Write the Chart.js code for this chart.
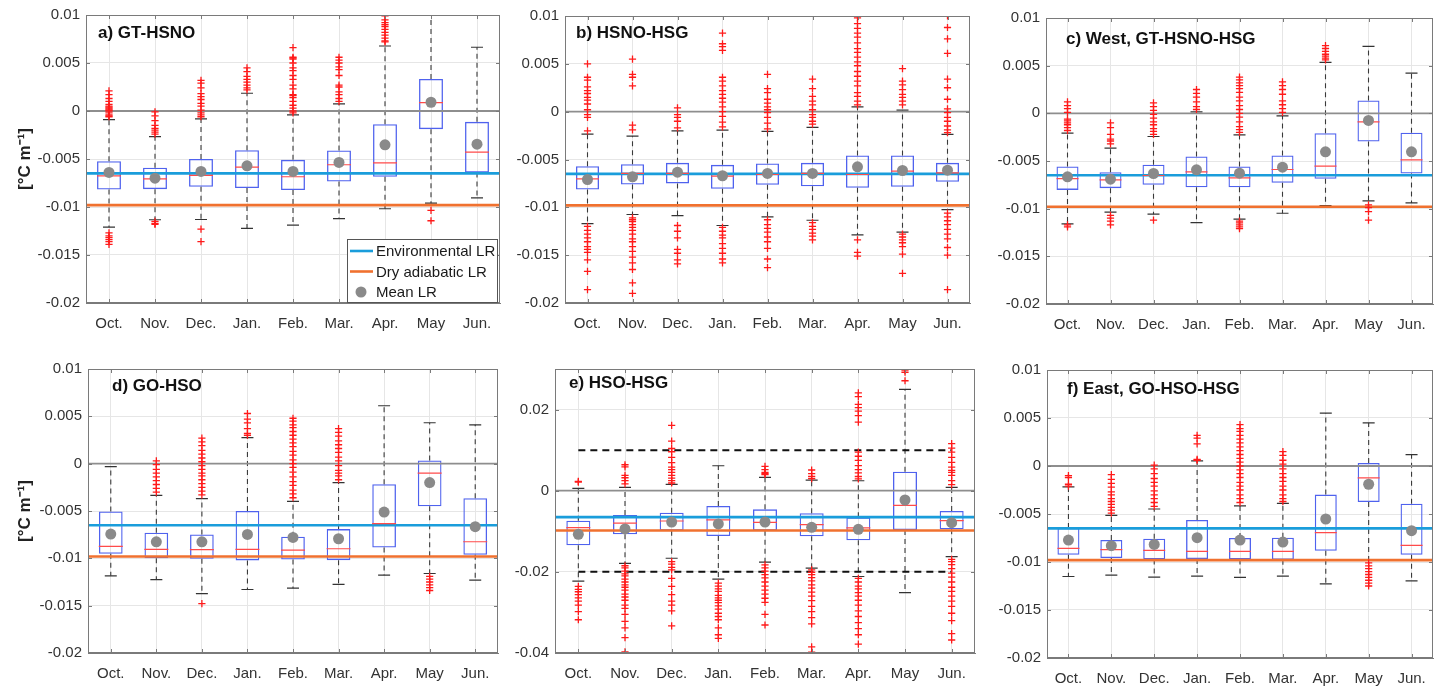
<!DOCTYPE html>
<html lang="en">
<head>
<meta charset="UTF-8">
<title>Monthly lapse rates by station pair</title>
<script src="https://cdn.jsdelivr.net/npm/chart.js"></script>
<style>
  body { margin: 0; background: #fff; }
  #wrap { position: relative; width: 1442px; height: 687px; overflow: hidden; }
  #wrap canvas { position: absolute; }
</style>
</head>
<body>
<div id="wrap"></div>
<script>
const months = ['Oct.', 'Nov.', 'Dec.', 'Jan.', 'Feb.', 'Mar.', 'Apr.', 'May', 'Jun.'];
const envLR = -0.0065;
const dryLR = -0.0098;
const yTicks = [-0.02, -0.015, -0.01, -0.005, 0, 0.005, 0.01];
const yTickLabels = ['-0.02', '-0.015', '-0.01', '-0.005', '0', '0.005', '0.01'];
const eTicks = [-0.04, -0.02, 0, 0.02];
const eTickLabels = ['-0.04', '-0.02', '0', '0.02'];
const eBounds = [0.01, -0.02];

// a) GT-HSNO
const aQ1 = [-0.00817, -0.00814, -0.0079, -0.00803, -0.00824, -0.00734, -0.00685, -0.00189, -0.0064];
const aQ3 = [-0.00523, -0.0059, -0.005, -0.00408, -0.00509, -0.00411, -0.00138, 0.00334, -0.00113];
const aMed = [-0.00675, -0.00706, -0.0067, -0.00585, -0.00685, -0.0056, -0.0054, 0.00088, -0.00429];
const aMean = [-0.0064, -0.007, -0.0063, -0.00571, -0.0063, -0.00536, -0.00352, 0.00091, -0.00346];
const aLo = [-0.0121, -0.01133, -0.0113, -0.01223, -0.01188, -0.01122, -0.01018, -0.0096, -0.00904];
const aHi = [-0.0009, -0.00266, -0.00082, 0.00185, -0.0004, 0.00074, 0.00677, 0.0105, 0.00664];
const aOut = [
  [0.0021, 0.0017, 0.0013, 0.001, 0.0007, 0.0005, 0.0004, 0.0003, 0.0002, 0.0001, 0, -0.0002, -0.0004, -0.0005, -0.0006, -0.0127, -0.013, -0.0132, -0.0134, -0.0136, -0.0139],
  [-0.0001, -0.0005, -0.001, -0.0015, -0.0018, -0.002, -0.0022, -0.0024, -0.0115, -0.0117, -0.0118],
  [0.0032, 0.0029, 0.0024, 0.0018, 0.0015, 0.0012, 0.0008, 0.0005, 0.0001, -0.0002, -0.0004, -0.0006, -0.0123, -0.0136],
  [0.0045, 0.0041, 0.0036, 0.0033, 0.003, 0.0027, 0.0024, 0.0022],
  [0.0066, 0.0056, 0.0055, 0.0054, 0.005, 0.0045, 0.0042, 0.0037, 0.0033, 0.0027, 0.0023, 0.0017, 0.0016, 0.0014, 0.001, 0.0006, 0.0003, 0, -0.0002],
  [0.0056, 0.0053, 0.005, 0.0046, 0.0043, 0.0037, 0.0027, 0.0025, 0.002, 0.0017, 0.0013, 0.001],
  [0.0099, 0.0095, 0.0092, 0.009, 0.0088, 0.0085, 0.0082, 0.0079, 0.0076, 0.0073, 0.0072],
  [-0.01036, -0.01143],
  []
];

// b) HSNO-HSG
const bQ1 = [-0.00814, -0.00761, -0.0075, -0.00807, -0.00765, -0.00779, -0.00796, -0.00786, -0.00733];
const bQ3 = [-0.0057, -0.00549, -0.00535, -0.00556, -0.00542, -0.00535, -0.00458, -0.00458, -0.00535];
const bMed = [-0.00702, -0.00646, -0.00646, -0.00674, -0.00657, -0.00646, -0.00657, -0.00622, -0.0064];
const bMean = [-0.00709, -0.00681, -0.00632, -0.0067, -0.00646, -0.00646, -0.00577, -0.00615, -0.00612];
const bLo = [-0.0117, -0.01075, -0.01086, -0.0119, -0.011, -0.01135, -0.01288, -0.0126, -0.01023];
const bHi = [-0.00235, -0.00256, -0.002, -0.00193, -0.00207, -0.00165, 0.00051, 0.00016, -0.00238];
const bOut = [
  [0.005, 0.0036, 0.0033, 0.0026, 0.0022, 0.0019, 0.0015, 0.0012, 0.0008, 0.0002, -0.0003, -0.0006, -0.002, -0.012, -0.0124, -0.0128, -0.0132, -0.0136, -0.0141, -0.0144, -0.0147, -0.0155, -0.0167, -0.0186],
  [0.0055, 0.0039, 0.0036, 0.0027, -0.0014, -0.0019, -0.0111, -0.0113, -0.0115, -0.0118, -0.0121, -0.0124, -0.0128, -0.0133, -0.0136, -0.0141, -0.0146, -0.0152, -0.0158, -0.0165, -0.0179, -0.019],
  [0.0004, -0.0003, -0.0006, -0.001, -0.0017, -0.0119, -0.0125, -0.0132, -0.0144, -0.0148, -0.0155, -0.0159],
  [0.0082, 0.0071, 0.0068, 0.0064, 0.0036, 0.0032, 0.0027, 0.0022, 0.0018, 0.0014, 0.001, 0.0005, 0, -0.0005, -0.0011, -0.0016, -0.0121, -0.0125, -0.0129, -0.0132, -0.0138, -0.0143, -0.0148, -0.0154, -0.0158],
  [0.0039, 0.0024, 0.002, 0.0013, 0.0009, 0.0005, 0.0002, -0.0001, -0.0006, -0.0012, -0.0018, -0.0113, -0.0118, -0.0122, -0.0126, -0.0131, -0.0136, -0.0143, -0.0154, -0.0163],
  [0.0034, 0.0024, 0.0016, 0.0011, 0.0007, 0.0002, -0.0003, -0.0006, -0.001, -0.0013, -0.0116, -0.012, -0.0123, -0.0127, -0.013, -0.0134],
  [0.0098, 0.0092, 0.0087, 0.0082, 0.0078, 0.0072, 0.0066, 0.0062, 0.0057, 0.0052, 0.0048, 0.0042, 0.0037, 0.0032, 0.0027, 0.002, 0.0016, 0.0011, 0.0007, -0.0134, -0.0147, -0.0151],
  [0.0045, 0.0032, 0.0028, 0.0023, 0.0018, 0.0015, 0.0011, 0.0007, -0.0128, -0.0131, -0.0134, -0.0137, -0.0141, -0.0149, -0.0169],
  [0.01, 0.0088, 0.0076, 0.0061, 0.0034, 0.0025, 0.0013, 0.0003, -0.0001, -0.0006, -0.001, -0.0015, -0.0019, -0.0022, -0.0106, -0.011, -0.0114, -0.0118, -0.0123, -0.0128, -0.0133, -0.0142, -0.015, -0.0186]
];

// c) West, GT-HSNO-HSG
const cQ1 = [-0.00803, -0.00785, -0.0075, -0.00775, -0.00775, -0.00729, -0.00687, -0.00295, -0.00631];
const cQ3 = [-0.00558, -0.00617, -0.0054, -0.00453, -0.00558, -0.00442, -0.00208, 0.00135, -0.00204];
const cMed = [-0.00684, -0.00698, -0.00652, -0.00614, -0.00677, -0.00589, -0.00554, -0.00089, -0.00488];
const cMean = [-0.00666, -0.00691, -0.00631, -0.00593, -0.00628, -0.00565, -0.00404, -0.00075, -0.00404];
const cLo = [-0.0116, -0.01037, -0.01058, -0.01146, -0.0111, -0.01048, -0.00967, -0.00918, -0.0094];
const cHi = [-0.00208, -0.00365, -0.00243, 0.00016, -0.00225, -0.00026, 0.00534, 0.00702, 0.00422];
const cOut = [
  [0.0012, 0.0008, 0.0005, 0.0001, -0.0006, -0.0008, -0.001, -0.0012, -0.0015, -0.0018, -0.0117, -0.0119],
  [-0.001, -0.0015, -0.0022, -0.0027, -0.0029, -0.0032, -0.0107, -0.011, -0.0113, -0.0117],
  [0.0011, 0.0007, 0.0003, -0.0001, -0.0005, -0.0009, -0.0012, -0.0016, -0.0019, -0.0022, -0.0112],
  [0.0025, 0.0021, 0.0017, 0.0012, 0.0007, 0.0004],
  [0.0038, 0.0035, 0.0032, 0.0029, 0.0026, 0.0022, 0.0017, 0.0013, 0.0008, 0.0004, 0, -0.0004, -0.0009, -0.0014, -0.0017, -0.002, -0.0113, -0.0115, -0.0117, -0.0119, -0.0121],
  [0.0033, 0.0029, 0.0025, 0.002, 0.0013, 0.0009, 0.0005, 0.0001],
  [0.0071, 0.0068, 0.0065, 0.0062, 0.006, 0.0058, 0.0056],
  [-0.0096, -0.0099, -0.0103, -0.0112],
  []
];

// d) GO-HSO
const dQ1 = [-0.00952, -0.00998, -0.01005, -0.01022, -0.01012, -0.01019, -0.00885, -0.0045, -0.00962];
const dQ3 = [-0.00504, -0.00729, -0.00747, -0.005, -0.00772, -0.00691, -0.00218, 0.00033, -0.00366];
const dMed = [-0.00874, -0.00906, -0.00909, -0.00906, -0.00913, -0.00899, -0.00634, -0.001, -0.00825];
const dMean = [-0.00744, -0.00825, -0.00825, -0.00747, -0.00779, -0.00793, -0.00511, -0.002, -0.00666];
const dLo = [-0.01185, -0.01224, -0.01372, -0.01329, -0.01315, -0.01276, -0.01178, -0.0116, -0.0123];
const dHi = [-0.00031, -0.00334, -0.00369, 0.00276, -0.00398, -0.002, 0.00612, 0.00432, 0.0041];
const dOut = [
  [],
  [0.0003, -0.0001, -0.0006, -0.001, -0.0014, -0.0018, -0.0022, -0.0026, -0.003],
  [0.0027, 0.0023, 0.0019, 0.0014, 0.001, 0.0006, 0.0002, -0.0002, -0.0006, -0.001, -0.0013, -0.0017, -0.0021, -0.0025, -0.0029, -0.0033, -0.01478],
  [0.0053, 0.0047, 0.0043, 0.0037, 0.0032, 0.003],
  [0.0048, 0.0045, 0.0041, 0.0038, 0.0034, 0.003, 0.0026, 0.0022, 0.0018, 0.0013, 0.0009, 0.0004, 0, -0.0004, -0.0009, -0.0014, -0.0019, -0.0023, -0.0028, -0.0032, -0.0036],
  [0.0037, 0.0033, 0.0029, 0.0024, 0.002, 0.0016, 0.0012, 0.0007, 0.0003, -0.0002, -0.0007, -0.001, -0.0013, -0.0017],
  [],
  [-0.0119, -0.0122, -0.0125, -0.0128, -0.0131, -0.0134],
  []
];

// e) HSO-HSG
const eQ1 = [-0.01344, -0.01074, -0.00984, -0.01115, -0.00984, -0.01123, -0.01222, -0.00967, -0.00951];
const eQ3 = [-0.00738, -0.006, -0.00541, -0.00377, -0.00459, -0.00557, -0.00656, 0.00467, -0.005];
const eMed = [-0.0091, -0.008, -0.00746, -0.00721, -0.00779, -0.00836, -0.00918, -0.00361, -0.00738];
const eMean = [-0.01074, -0.00943, -0.00771, -0.0082, -0.00771, -0.00902, -0.00951, -0.00229, -0.00787];
const eLo = [-0.0223, -0.0179, -0.01664, -0.0218, -0.01762, -0.0191, -0.02115, -0.0251, -0.01623];
const eHi = [0.00057, 0.0008, 0.00156, 0.00615, 0.00328, 0.00262, 0.00246, 0.025, 0.00082];
const eOut = [
  [0.0023, 0.0021, -0.0236, -0.0243, -0.0249, -0.0256, -0.0264, -0.0272, -0.0282, -0.0298, -0.0318],
  [0.0064, 0.0059, 0.0038, 0.0032, 0.0025, 0.0017, -0.0185, -0.019, -0.0198, -0.0205, -0.021, -0.0218, -0.0225, -0.0232, -0.0238, -0.0245, -0.0255, -0.0262, -0.027, -0.0282, -0.029, -0.0305, -0.0322, -0.0338, -0.0362, -0.0397],
  [0.0161, 0.0122, 0.0104, 0.0096, 0.0082, 0.0069, 0.0058, 0.0052, 0.0045, 0.0038, 0.0031, 0.0025, 0.0019, -0.0175, -0.0181, -0.0189, -0.0195, -0.0216, -0.0236, -0.0256, -0.0272, -0.0282, -0.0296, -0.0333],
  [-0.0228, -0.0235, -0.0242, -0.0248, -0.0258, -0.0264, -0.027, -0.0276, -0.0284, -0.0292, -0.0302, -0.031, -0.0318, -0.0338, -0.0355, -0.0364],
  [0.006, 0.0052, 0.0045, 0.0042, 0.004, -0.0183, -0.019, -0.0198, -0.0207, -0.0215, -0.0225, -0.0235, -0.0245, -0.0255, -0.0265, -0.0275, -0.0305, -0.0331],
  [0.0051, 0.0042, 0.0035, 0.003, -0.0195, -0.0201, -0.0207, -0.0214, -0.0222, -0.0232, -0.024, -0.025, -0.026, -0.0271, -0.0285, -0.0298, -0.0313, -0.0328, -0.0385, -0.0398],
  [0.0241, 0.0232, 0.0213, 0.0205, 0.0196, 0.0185, 0.0169, 0.0095, 0.0085, 0.0075, 0.0062, 0.0052, 0.0044, 0.0035, 0.0029, -0.0216, -0.0225, -0.0235, -0.0242, -0.0251, -0.026, -0.027, -0.0282, -0.0296, -0.031, -0.0325, -0.034, -0.0355, -0.0378],
  [0.0297, 0.0292, 0.0271],
  [0.0116, 0.0105, 0.0095, 0.0082, 0.007, 0.0058, 0.005, 0.0045, 0.0038, 0.0025, 0.0015, -0.0169, -0.0175, -0.0182, -0.0192, -0.0203, -0.0213, -0.0225, -0.0238, -0.0248, -0.026, -0.0272, -0.0285, -0.0302, -0.032, -0.0352, -0.0368]
];

// f) East, GO-HSO-HSG
const fQ1 = [-0.00925, -0.00959, -0.00973, -0.0097, -0.00973, -0.00977, -0.00883, -0.00375, -0.00925];
const fQ3 = [-0.00646, -0.00771, -0.00758, -0.00563, -0.0075, -0.00747, -0.00298, 0.00032, -0.00392];
const fMed = [-0.00858, -0.00872, -0.00879, -0.0089, -0.0089, -0.0089, -0.00695, -0.00124, -0.00827];
const fMean = [-0.00771, -0.0083, -0.00817, -0.00747, -0.00771, -0.00792, -0.00552, -0.0019, -0.00674];
const fLo = [-0.01151, -0.01137, -0.01158, -0.01147, -0.01161, -0.01147, -0.01227, -0.00984, -0.01196];
const fHi = [-0.00218, -0.00514, -0.00448, 0.00053, -0.00416, -0.00389, 0.00551, 0.0045, 0.00119];
const fOut = [
  [-0.001, -0.0012, -0.0019, -0.0021],
  [-0.0009, -0.0014, -0.0018, -0.0022, -0.0027, -0.003, -0.0034, -0.0037, -0.004, -0.0043, -0.0046, -0.0049],
  [0.0001, -0.0003, -0.0008, -0.0013, -0.0017, -0.0021, -0.0026, -0.003, -0.0034, -0.0038, -0.0042],
  [0.0032, 0.0029, 0.0023, 0.0007, 0.0006],
  [0.0043, 0.0039, 0.0036, 0.0032, 0.0028, 0.0024, 0.002, 0.0016, 0.0012, 0.0008, 0.0004, 0, -0.0004, -0.0008, -0.0012, -0.0017, -0.0021, -0.0025, -0.003, -0.0034, -0.0038],
  [0.0015, 0.0011, 0.0006, 0.0002, -0.0003, -0.0008, -0.0012, -0.0016, -0.0021, -0.0025, -0.003, -0.0034, -0.0037],
  [],
  [-0.0101, -0.0104, -0.0107, -0.011, -0.0113, -0.0116, -0.0119, -0.0122, -0.0125],
  []
];

Chart.defaults.font.family = '"Liberation Sans", Arial, Helvetica, sans-serif';
Chart.defaults.color = '#333';

const FONT = '"Liberation Sans", Arial, Helvetica, sans-serif';

// axes box, inward ticks, panel label and (panel a) legend
const framePlugin = {
  id: 'frame',
  afterDatasetsDraw(chart, args, o) {
    const {ctx, chartArea: a, scales} = chart;
    ctx.save();
    ctx.strokeStyle = '#7a7a7a';
    ctx.lineWidth = 1;
    ctx.beginPath();
    scales.y.ticks.forEach(t => {
      const y = Math.round(scales.y.getPixelForValue(t.value)) + 0.5;
      ctx.moveTo(a.left, y); ctx.lineTo(a.left + 4, y);
      ctx.moveTo(a.right, y); ctx.lineTo(a.right - 4, y);
    });
    scales.x.ticks.forEach((t, i) => {
      const x = Math.round(scales.x.getPixelForTick(i)) + 0.5;
      ctx.moveTo(x, a.bottom); ctx.lineTo(x, a.bottom - 4);
      ctx.moveTo(x, a.top); ctx.lineTo(x, a.top + 4);
    });
    ctx.stroke();
    ctx.strokeRect(Math.round(a.left) + 0.5, Math.round(a.top) + 0.5, Math.round(a.width) - 1, Math.round(a.height) - 1);

    ctx.font = 'bold 17px ' + FONT;
    ctx.fillStyle = '#111';
    ctx.textBaseline = 'middle';
    ctx.fillText(o.text, a.left + o.dx, a.top + o.dy);

    if (o.legend) {
      const items = chart.data.datasets.filter(d => o.legend.includes(d.label));
      const w = 150, h = 63;
      const bx = Math.round(a.right) - 3 - w, by = Math.round(a.bottom) - 1 - h;
      ctx.fillStyle = '#fff';
      ctx.fillRect(bx, by, w, h);
      ctx.strokeStyle = '#555';
      ctx.strokeRect(bx + 0.5, by + 0.5, w, h);
      ctx.font = '15px ' + FONT;
      ctx.textBaseline = 'middle';
      items.forEach((d, i) => {
        const y = by + 12 + i * 20.5;
        if (d.type === 'line') {
          ctx.strokeStyle = d.borderColor;
          ctx.lineWidth = d.borderWidth;
          ctx.beginPath();
          ctx.moveTo(bx + 3, y); ctx.lineTo(bx + 26, y);
          ctx.stroke();
        } else {
          ctx.fillStyle = d.backgroundColor;
          ctx.beginPath();
          ctx.arc(bx + 14, y, d.pointRadius, 0, Math.PI * 2);
          ctx.fill();
        }
        ctx.fillStyle = '#1a1a1a';
        ctx.fillText(d.label, bx + 29, y + 1);
      });
    }
    ctx.restore();
  }
};

function pts(values) {
  return months.map((m, i) => ({x: m, y: values[i]}));
}

function makePanel(p) {
  const pt = 10, pr = 8, xh = 36;
  const plotW = p.right - p.left, plotH = p.bottom - p.top;
  const canvas = document.createElement('canvas');
  canvas.width = p.yw + plotW + pr;
  canvas.height = pt + plotH + xh;
  canvas.style.left = (p.left - p.yw) + 'px';
  canvas.style.top = (p.top - pt) + 'px';
  document.getElementById('wrap').appendChild(canvas);

  const boxW = Math.round(plotW / months.length * 0.52);
  const whisk = [];
  months.forEach((m, i) => {
    whisk.push({x: m, y: p.q3[i]}, {x: m, y: p.hi[i]}, {x: m, y: null},
               {x: m, y: p.q1[i]}, {x: m, y: p.lo[i]}, {x: m, y: null});
  });
  const caps = months.flatMap((m, i) => [{x: m, y: p.hi[i]}, {x: m, y: p.lo[i]}]);
  const outs = months.flatMap((m, i) => p.out[i].map(v => ({x: m, y: v})));

  const datasets = [
    {type: 'bar', label: 'IQR', data: months.map((m, i) => [p.q1[i], p.q3[i]]),
     backgroundColor: 'rgba(0,0,0,0)', borderColor: '#4f62ee', borderWidth: 1.3,
     borderSkipped: false, grouped: false, categoryPercentage: 1, barPercentage: 0.52,
     maxBarThickness: boxW, order: 9},
    {type: 'line', label: 'whiskers', data: whisk, borderColor: '#3a3a3a', borderWidth: 1.1,
     borderDash: [5, 4], pointRadius: 0, spanGaps: false, order: 8},
    {type: 'scatter', label: 'caps', data: caps, pointStyle: 'line', pointRadius: 6,
     borderColor: '#333', borderWidth: 1.2, order: 7},
    {type: 'line', label: 'zero', xAxisID: 'x2', data: [{x: 0, y: 0}, {x: 1, y: 0}],
     borderColor: '#8e8e8e', borderWidth: 1.8, pointRadius: 0, order: 6},
    {type: 'line', label: 'Environmental LR', xAxisID: 'x2', data: [{x: 0, y: envLR}, {x: 1, y: envLR}],
     borderColor: '#1a9ddb', borderWidth: 2.6, pointRadius: 0, order: 4},
    {type: 'line', label: 'Dry adiabatic LR', xAxisID: 'x2', data: [{x: 0, y: dryLR}, {x: 1, y: dryLR}],
     borderColor: '#f0712f', borderWidth: 2.6, pointRadius: 0, order: 4},
    {type: 'scatter', label: 'median', data: pts(p.med), pointStyle: 'line', pointRadius: boxW / 2,
     borderColor: '#ff4a4a', borderWidth: 1.2, order: 3},
    {type: 'scatter', label: 'outliers', data: outs, pointStyle: 'cross', pointRadius: 3.6,
     borderColor: '#ff1a1a', borderWidth: 1.3, order: 2},
    {type: 'scatter', label: 'Mean LR', data: pts(p.mean), pointStyle: 'circle', pointRadius: 5.5,
     backgroundColor: '#8a8a8a', borderWidth: 0, order: 1}
  ];
  if (p.bounds) {
    p.bounds.forEach(b => datasets.push({
      type: 'line', label: 'bound', data: [{x: months[0], y: b}, {x: months[months.length - 1], y: b}],
      borderColor: '#111', borderWidth: 2, borderDash: [7, 5], pointRadius: 0, order: 5
    }));
  }

  new Chart(canvas, {
    type: 'bar',
    data: {labels: months, datasets},
    plugins: [framePlugin],
    options: {
      responsive: false,
      animation: false,
      events: [],
      devicePixelRatio: 1,
      layout: {autoPadding: false, padding: {top: pt, right: pr, left: 0, bottom: 0}},
      plugins: {
        legend: {display: false},
        tooltip: {enabled: false},
        frame: {text: p.label, dx: p.dx, dy: p.dy, legend: p.legend}
      },
      scales: {
        x: {
          type: 'category',
          offset: true,
          grid: {color: '#e6e6e6', offset: false, drawTicks: false},
          border: {color: '#7a7a7a'},
          ticks: {font: {size: 15}, color: '#333', padding: 12, autoSkip: false, maxRotation: 0},
          afterFit: s => { s.height = xh; s.paddingLeft = 0; s.paddingRight = 0; }
        },
        x2: {type: 'linear', min: 0, max: 1, offset: false, display: false},
        y: {
          min: p.ticks[0],
          max: p.ymax,
          grid: {color: '#e6e6e6', drawTicks: false},
          border: {color: '#7a7a7a'},
          afterBuildTicks: s => { s.ticks = p.ticks.map(v => ({value: v})); },
          ticks: {font: {size: 15}, color: '#333', padding: 6,
                  callback: (v, i) => p.tickLabels[i]},
          title: {display: !!p.yTitle, text: p.yTitle || '', font: {size: 17, weight: 'bold'},
                  color: '#222', padding: {top: 15, bottom: 0}},
          afterFit: s => { s.width = p.yw; s.paddingTop = 0; s.paddingBottom = 0; }
        }
      }
    }
  });
}

const unit = '[°C m⁻¹]';
const legendItems = ['Environmental LR', 'Dry adiabatic LR', 'Mean LR'];

makePanel({left: 86, top: 15, right: 500, bottom: 303, yw: 86, yTitle: unit, label: 'a) GT-HSNO', dx: 12, dy: 18,
  legend: legendItems, ticks: yTicks, tickLabels: yTickLabels, ymax: 0.01,
  q1: aQ1, q3: aQ3, med: aMed, mean: aMean, lo: aLo, hi: aHi, out: aOut});
makePanel({left: 565, top: 16, right: 970, bottom: 303, yw: 60, label: 'b) HSNO-HSG', dx: 11, dy: 17,
  ticks: yTicks, tickLabels: yTickLabels, ymax: 0.01,
  q1: bQ1, q3: bQ3, med: bMed, mean: bMean, lo: bLo, hi: bHi, out: bOut});
makePanel({left: 1046, top: 18, right: 1433, bottom: 304, yw: 60, label: 'c) West, GT-HSNO-HSG', dx: 20, dy: 21,
  ticks: yTicks, tickLabels: yTickLabels, ymax: 0.01,
  q1: cQ1, q3: cQ3, med: cMed, mean: cMean, lo: cLo, hi: cHi, out: cOut});
makePanel({left: 88, top: 369, right: 498, bottom: 653, yw: 88, yTitle: unit, label: 'd) GO-HSO', dx: 24, dy: 17,
  ticks: yTicks, tickLabels: yTickLabels, ymax: 0.01,
  q1: dQ1, q3: dQ3, med: dMed, mean: dMean, lo: dLo, hi: dHi, out: dOut});
makePanel({left: 555, top: 369, right: 975, bottom: 653, yw: 60, label: 'e) HSO-HSG', dx: 14, dy: 14,
  ticks: eTicks, tickLabels: eTickLabels, ymax: 0.03, bounds: eBounds,
  q1: eQ1, q3: eQ3, med: eMed, mean: eMean, lo: eLo, hi: eHi, out: eOut});
makePanel({left: 1047, top: 370, right: 1433, bottom: 658, yw: 60, label: 'f) East, GO-HSO-HSG', dx: 20, dy: 19,
  ticks: yTicks, tickLabels: yTickLabels, ymax: 0.01,
  q1: fQ1, q3: fQ3, med: fMed, mean: fMean, lo: fLo, hi: fHi, out: fOut});
</script>
</body>
</html>
